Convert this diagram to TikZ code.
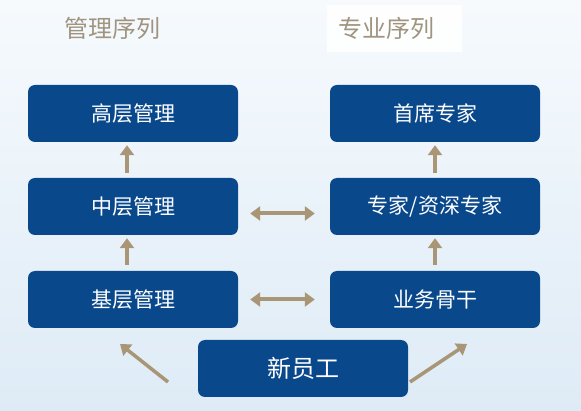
\documentclass[tikz,border=0pt]{standalone}
\usepackage{fontspec}
\setmainfont{Noto Sans CJK SC}
\usetikzlibrary{arrows.meta,positioning}
\definecolor{pathblue}{RGB}{10,72,140}
\definecolor{pathtan}{RGB}{168,150,118}
\definecolor{titlegray}{RGB}{160,148,128}
\definecolor{bgtop}{RGB}{246,250,253}
\definecolor{bgbot}{RGB}{222,235,246}

\begin{document}
\begin{tikzpicture}[
  x=1pt,y=-1pt,
  rank/.style={draw=none,fill=pathblue,rounded corners=7pt,minimum width=210pt,
    minimum height=57pt,text=white,font=\fontsize{21}{25}\selectfont},
  title/.style={text=titlegray,font=\fontsize{24}{28}\selectfont},
  promo/.style={-{Triangle[length=10pt,width=14pt]},line width=4pt,pathtan},
  swap/.style={{Triangle[length=10pt,width=14pt]}-{Triangle[length=10pt,width=14pt]},line width=4pt,pathtan}
]
  \useasboundingbox (0,0) rectangle (581,411);
  \shade[top color=bgtop,bottom color=bgbot] (0,0) rectangle (581,411);
  \fill[white,opacity=0.9] (327,5) rectangle (462,52);

  \node[title] (mgr) at (112,28) {管理序列};
  \node[title] (pro) at (386,28) {专业序列};

  % management track
  \node[rank] (gao) at (133,113.5) {高层管理};
  \node[rank] (zhong) at (133,206.5) {中层管理};
  \node[rank] (ji) at (133,299.5) {基层管理};

  % professional track
  \node[rank] (shou) at (435,113.5) {首席专家};
  \node[rank] (zhuan) at (435,206.5) {专家/资深专家};
  \node[rank] (gu) at (435,299.5) {业务骨干};

  \node[rank,font=\fontsize{24}{28}\selectfont] (xin) at (303,368.5) {新员工};

  \draw[promo,shorten <=5pt,shorten >=3pt] ([xshift=-6pt]zhong.north) -- ([xshift=-6pt]gao.south);
  \draw[promo,shorten <=6pt,shorten >=3pt] ([xshift=-6pt]ji.north) -- ([xshift=-6pt]zhong.south);
  \draw[promo,shorten <=5pt,shorten >=3pt] (zhuan.north) -- (shou.south);
  \draw[promo,shorten <=6pt,shorten >=3pt] (gu.north) -- (zhuan.south);

  \draw[swap,shorten <=12pt,shorten >=15pt] ([yshift=-7pt]zhong.east) -- ([yshift=-7pt]zhuan.west);
  \draw[swap,shorten <=12pt,shorten >=15pt] (ji.east) -- (gu.west);

  \coordinate (lfoot) at (168,382);
  \coordinate (ltip) at (120,344);
  \coordinate (rfoot) at (410,382);
  \coordinate (rtip) at (467,344);
  \draw[promo,line width=3.5pt] (lfoot) -- (ltip);
  \draw[promo,line width=3.5pt] (rfoot) -- (rtip);
\end{tikzpicture}
\end{document}
